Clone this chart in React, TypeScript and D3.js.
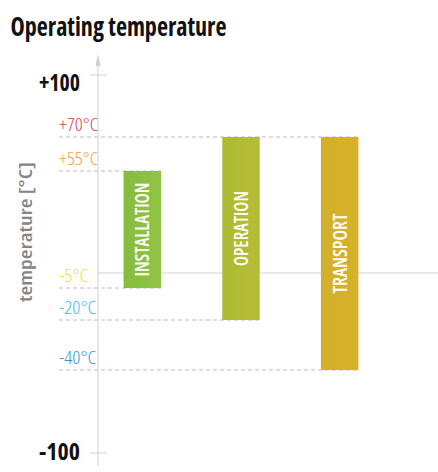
import React from "react";
import * as d3 from "d3";

const categories = ["INSTALLATION", "OPERATION", "TRANSPORT"];
const minTemps = [-5, -20, -40];
const maxTemps = [55, 70, 70];
const barColors = [
  ["#86bc3c", "#92c446"],
  ["#aebb34", "#b6bc39"],
  ["#d2b02b", "#d9b12a"],
];
const refTemps = [70, 55, -5, -20, -40];
const refLabels = ["+70°C", "+55°C", "-5°C", "-20°C", "-40°C"];
const refColors = ["#d0424f", "#f4a043", "#e3e148", "#4cb4e8", "#3d8fd1"];
const axisTicks = [100, -100];
const axisTickLabels = ["+100", "-100"];

const W = 438;
const H = 472;
const FONT = "'Open Sans', 'Noto Sans', 'DejaVu Sans Condensed', sans-serif";

export default function App() {
  // infographic uses an uneven (piecewise) vertical scale
  const y = d3
    .scaleLinear()
    .domain([100, 70, 55, 0, -5, -20, -40, -100])
    .range([75, 137, 171, 273, 288, 320, 370, 453]);
  const x = d3
    .scaleBand()
    .domain(categories)
    .range([93, 389])
    .paddingInner(0.62)
    .paddingOuter(0.31);
  const axisX = 98;
  const bw = x.bandwidth();

  const refLen = [39, 39, 29, 37, 37];
  const barLabelLen = [94, 75, 80];

  const refRight = refTemps.map((v) => {
    let idx = 0;
    categories.forEach((c, i) => {
      if (minTemps[i] === v || maxTemps[i] === v) idx = i;
    });
    return (x(categories[idx]) as number) + bw;
  });

  return (
    <svg width={W} height={H} style={{ position: "absolute", left: 0, top: 0, fontFamily: FONT }}>
      <defs>
        {barColors.map((c, i) => (
          <linearGradient key={i} id={`g${i}`} x1="0" x2="1" y1="0" y2="0">
            <stop offset="0" stopColor={c[0]} />
            <stop offset="1" stopColor={c[1]} />
          </linearGradient>
        ))}
      </defs>
      <rect width={W} height={H} fill="#fff" />
      <text
        x={10.5}
        y={36}
        fontSize={26}
        fontWeight={700}
        fill="#111"
        textLength={216}
        lengthAdjust="spacingAndGlyphs"
        style={{ fontStretch: "condensed" }}
      >
        Operating temperature
      </text>

      {/* y axis title */}
      <text
        transform={`translate(31.5,232) rotate(-90)`}
        textAnchor="middle"
        fontSize={18}
        fontWeight={600}
        fill="#858585"
        textLength={140}
        lengthAdjust="spacingAndGlyphs"
        style={{ fontStretch: "condensed" }}
      >
        temperature [°C]
      </text>

      {/* zero line */}
      <line x1={axisX} x2={W} y1={y(0)} y2={y(0)} stroke="#d2d2d2" strokeWidth={1} />

      {/* axis */}
      <line x1={axisX} x2={axisX} y1={58} y2={466} stroke="#d0d0d0" strokeWidth={1} />
      <path d={`M${axisX},54 L${axisX - 2.5},66 L${axisX + 2.5},66 Z`} fill="#d0d0d0" />
      {axisTicks.map((t, i) => (
        <g key={t}>
          <line x1={axisX - 8} x2={axisX + 9} y1={y(t)} y2={y(t)} stroke="#d0d0d0" strokeWidth={1} />
          <text
            x={80}
            y={y(t) + (t > 0 ? 15.5 : 6.5)}
            textAnchor="end"
            fontSize={23}
            fontWeight={700}
            fill="#111"
            textLength={41}
            lengthAdjust="spacingAndGlyphs"
            style={{ fontStretch: "condensed" }}
          >
            {axisTickLabels[i]}
          </text>
        </g>
      ))}

      {/* reference dashed lines and labels */}
      {refTemps.map((v, i) => (
        <g key={v}>
          <line
            x1={59}
            x2={refRight[i]}
            y1={y(v)}
            y2={y(v)}
            stroke="#bdbdbd"
            strokeWidth={1}
            strokeDasharray="4 3"
          />
          <text
            x={59}
            y={y(v) - 6.5}
            fontSize={17.5}
            fontWeight={300}
            fill={refColors[i]}
            textLength={refLen[i]}
            lengthAdjust="spacingAndGlyphs"
            style={{ fontStretch: "condensed" }}
          >
            {refLabels[i]}
          </text>
        </g>
      ))}

      {/* bars */}
      {categories.map((c, i) => {
        const x0 = x(c) as number;
        const y0 = y(maxTemps[i]);
        const y1 = y(minTemps[i]);
        const cx = x0 + bw / 2;
        const cy = (y0 + y1) / 2;
        return (
          <g key={c}>
            <rect x={x0} y={y0} width={bw} height={y1 - y0} fill={`url(#g${i})`} />
            <text
              transform={`translate(${cx},${cy}) rotate(-90)`}
              textAnchor="middle"
              dominantBaseline="central"
              fontSize={19}
              fontWeight={600}
              fill="#fff"
              textLength={barLabelLen[i]}
              lengthAdjust="spacingAndGlyphs"
              style={{ fontStretch: "condensed" }}
            >
              {c}
            </text>
          </g>
        );
      })}
    </svg>
  );
}
